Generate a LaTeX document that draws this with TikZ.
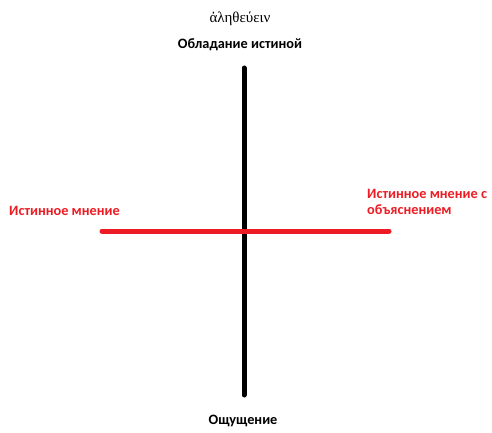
\documentclass[tikz,border=0pt]{standalone}
\usepackage{fontspec}
\setmainfont{Carlito}
\newfontfamily\greekfont{Liberation Serif}
\definecolor{redline}{RGB}{237,28,36}
\begin{document}
\begin{tikzpicture}[x=1pt,y=-1pt,
  lbl/.style={font=\bfseries\fontsize{14.3}{16}\selectfont, inner sep=0pt},
  redlbl/.style={lbl, text=redline, anchor=west}]
\useasboundingbox (0,0) rectangle (492,433);
\coordinate (vt) at (244,68);
\coordinate (vb) at (244,395);
\coordinate (hl) at (102,231);
\coordinate (hr) at (389,231);
\draw[line width=5pt, line cap=round] (vt) -- (vb);
\draw[line width=5pt, line cap=round, redline] (hl) -- (hr);
\node[inner sep=0pt, font=\greekfont\fontsize{15}{17}\selectfont] (gr) at (240,19) {ἀληθεύειν};
\node[lbl] (top) at (240,45) {Обладание истиной};
\node[lbl] (bot) at (243,421) {Ощущение};
\node[redlbl] (left) at (9,211) {Истинное мнение};
\node[redlbl, align=left] (right) at (367,202) {Истинное мнение с\\[0pt]объяснением};
\end{tikzpicture}
\end{document}
